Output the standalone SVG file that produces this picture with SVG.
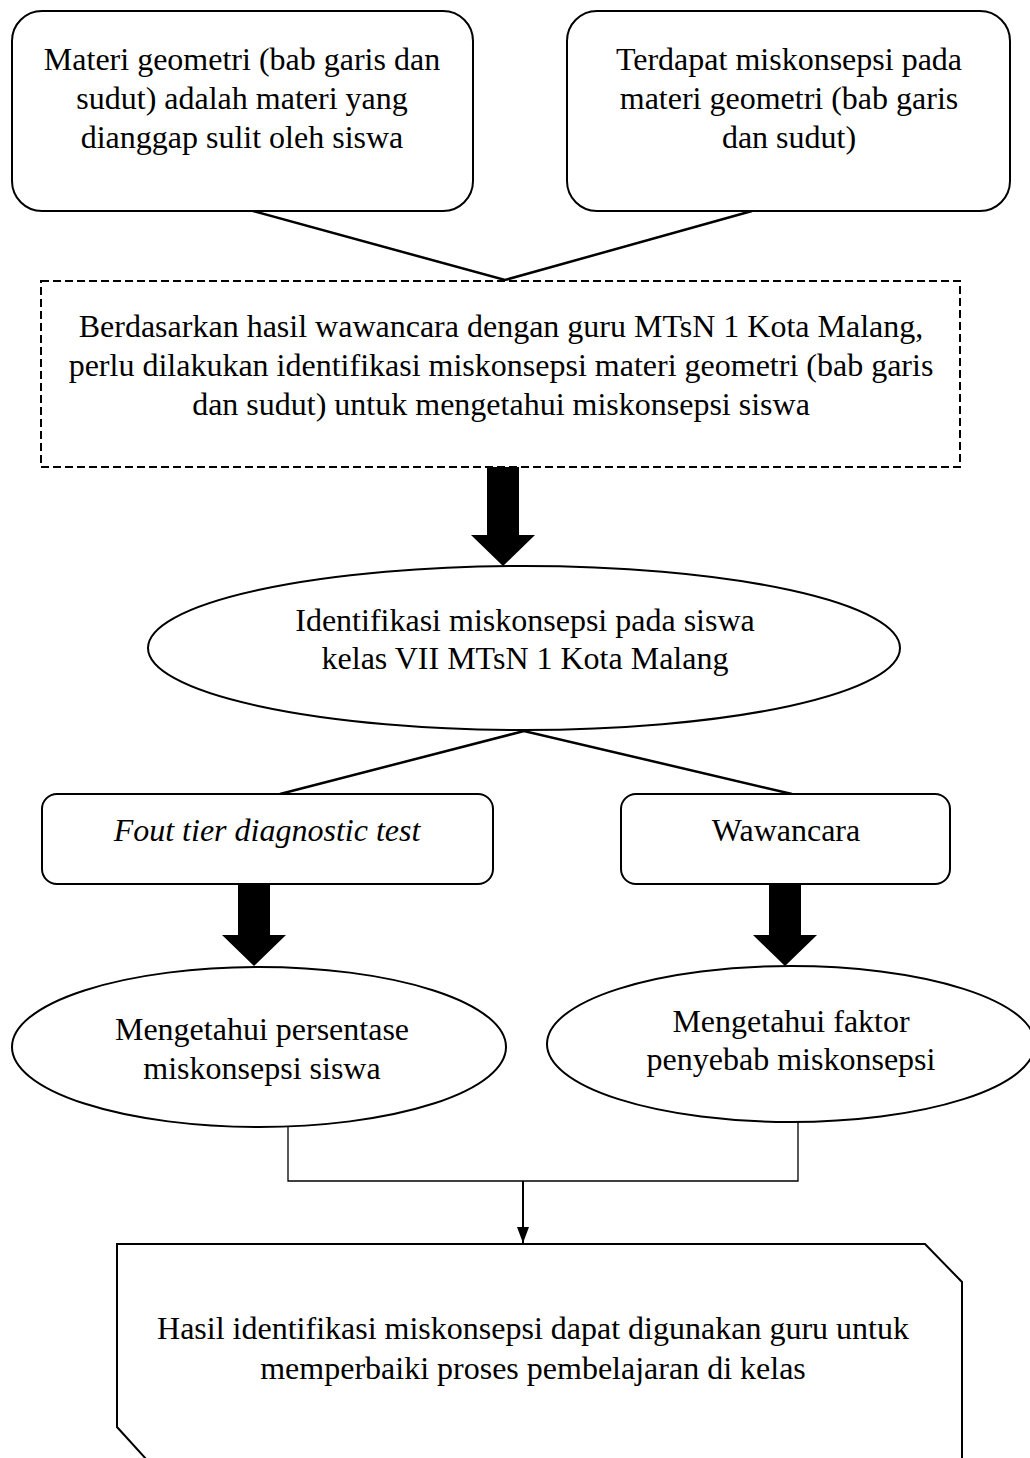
<svg xmlns="http://www.w3.org/2000/svg" width="1030" height="1458" viewBox="0 0 1030 1458">
<style>
  .box{fill:#fff;stroke:#000;stroke-width:2}
  .dash{fill:#fff;stroke:#000;stroke-width:2;stroke-dasharray:8 4}
  .t{font-family:"Liberation Serif","Times New Roman",serif;font-size:32px;fill:#000;text-anchor:middle}
  .it{font-style:italic}
  .ln{fill:none;stroke:#000;stroke-width:2.5}
  .thin{fill:none;stroke:#000;stroke-width:1.3}
  .fat{fill:#000;stroke:none}
</style>
<defs>
  <marker id="ah" viewBox="0 0 16 12" refX="16" refY="6" markerWidth="16" markerHeight="12" markerUnits="userSpaceOnUse" orient="auto">
    <path d="M0,0 L16,6 L0,12 Z" fill="#000"/>
  </marker>
</defs>
<rect width="1030" height="1458" fill="#fff"/>

<g id="connectors">
  <polyline class="ln" points="253,211 505,280 752,211"/>
  <polygon class="fat" points="487,467 519,467 519,535 535,535 503,566 471,535 487,535"/>
  <polyline class="ln" points="280,794 524,731 792,794"/>
  <polygon class="fat" points="238,884 270,884 270,935 286,935 254,966 222,935 238,935"/>
  <polygon class="fat" points="769,884 801,884 801,935 817,935 785,966 753,935 769,935"/>
  <polyline class="thin" points="288,1127 288,1181 798,1181 798,1122"/>
  <line x1="523" y1="1181" x2="523" y2="1243" stroke="#000" stroke-width="2" marker-end="url(#ah)"/>
</g>

<g id="node-materi">
  <rect class="box" x="12" y="11" width="461" height="200" rx="30"/>
  <text class="t" x="242" y="70">Materi geometri (bab garis dan</text>
  <text class="t" x="242" y="109">sudut) adalah materi yang</text>
  <text class="t" x="242" y="148">dianggap sulit oleh siswa</text>
</g>

<g id="node-terdapat">
  <rect class="box" x="567" y="11" width="443" height="200" rx="30"/>
  <text class="t" x="789" y="70">Terdapat miskonsepsi pada</text>
  <text class="t" x="789" y="109">materi geometri (bab garis</text>
  <text class="t" x="789" y="148">dan sudut)</text>
</g>

<g id="node-berdasarkan">
  <rect class="dash" x="41" y="281" width="919" height="186"/>
  <text class="t" x="501" y="337">Berdasarkan hasil wawancara dengan guru MTsN 1 Kota Malang,</text>
  <text class="t" x="501" y="376">perlu dilakukan identifikasi miskonsepsi materi geometri (bab garis</text>
  <text class="t" x="501" y="415">dan sudut) untuk mengetahui miskonsepsi siswa</text>
</g>

<g id="node-identifikasi">
  <ellipse class="box" cx="524" cy="648" rx="376" ry="82"/>
  <text class="t" x="525" y="631">Identifikasi miskonsepsi pada siswa</text>
  <text class="t" x="525" y="669">kelas VII MTsN 1 Kota Malang</text>
</g>

<g id="node-fout">
  <rect class="box" x="42" y="794" width="451" height="90" rx="15"/>
  <text class="t it" x="267" y="841">Fout tier diagnostic test</text>
</g>

<g id="node-wawancara">
  <rect class="box" x="621" y="794" width="329" height="90" rx="15"/>
  <text class="t" x="786" y="841">Wawancara</text>
</g>

<g id="node-persentase">
  <ellipse class="box" cx="259" cy="1047" rx="247" ry="80"/>
  <text class="t" x="262" y="1040">Mengetahui persentase</text>
  <text class="t" x="262" y="1079">miskonsepsi siswa</text>
</g>

<g id="node-faktor">
  <ellipse class="box" cx="791" cy="1044" rx="244" ry="78"/>
  <text class="t" x="791" y="1032">Mengetahui faktor</text>
  <text class="t" x="791" y="1070">penyebab miskonsepsi</text>
</g>

<g id="node-hasil">
  <path class="box" d="M147,1460 L117,1427 L117,1244 L925,1244 L962,1282 L962,1460"/>
  <text class="t" x="533" y="1339">Hasil identifikasi miskonsepsi dapat digunakan guru untuk</text>
  <text class="t" x="533" y="1379">memperbaiki proses pembelajaran di kelas</text>
</g>
</svg>
